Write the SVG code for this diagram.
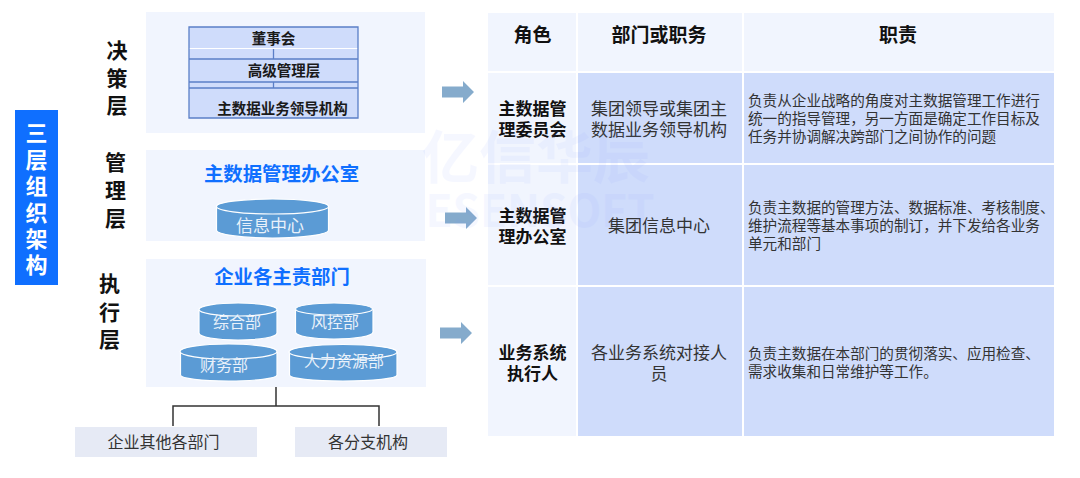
<svg xmlns="http://www.w3.org/2000/svg" width="1080" height="478" viewBox="0 0 1080 478">
<defs>
<style>
text{font-family:"Noto Sans CJK SC","Liberation Sans",sans-serif;dominant-baseline:central;text-anchor:middle}
.panel{fill:#f1f5fe}
.tier{font-size:21px;font-weight:700;fill:#111}
.blue{font-size:19.4px;font-weight:700;fill:#0f6fff}
.stack{font-size:14.5px;font-weight:700;fill:#1a1a1a}
.cyl{fill:#5b9bd5;stroke:#fff;stroke-width:1.2}
.cylt{fill:#e9f1fa;font-size:16px}
.sub{fill:#e6eaf5}
.subt{font-size:16px;fill:#333}
.head{fill:#f1f5fe}
.body{fill:#cfdcfb}
.th{font-size:19px;font-weight:700;fill:#111}
.r{font-size:17px;font-weight:700;fill:#111}
.d{font-size:17px;fill:#333}
.p{font-size:14.6px;fill:#333;text-anchor:start}
.arrow{fill:#85abcc}
.wm{fill:#7f98ff;opacity:.07;font-weight:700}
.l{stroke:#5b7fc7;stroke-width:1.3;fill:none}
</style>
</defs>

<g id="title"><rect x="15" y="110" width="43" height="175" fill="#0f6fff"/>
<g font-size="22" font-weight="700" fill="#fff"><text x="36.500" y="130.500">三</text><text x="36.500" y="157.500">层</text><text x="36.500" y="183.500">组</text><text x="36.500" y="210.500">织</text><text x="36.500" y="236.500">架</text><text x="36.500" y="262.500">构</text></g></g>

<g id="tier-labels">
<text class="tier" x="117" y="48.500">决</text><text class="tier" x="117" y="76.500">策</text><text class="tier" x="117" y="103.500">层</text>
<text class="tier" x="115.500" y="160.500">管</text><text class="tier" x="115.500" y="188.500">理</text><text class="tier" x="115.500" y="216.500">层</text>
<text class="tier" x="109.500" y="281.500">执</text><text class="tier" x="109.500" y="310.500">行</text><text class="tier" x="109.500" y="337.500">层</text>
</g>

<g id="decision-tier">
<rect class="panel" x="146" y="12" width="279" height="121"/>
<rect x="189" y="27" width="169" height="91" fill="#cfdcfb"/>
<path d="M189 48.500H358" stroke="#fff" stroke-width="1.2"/>
<path class="l" d="M189 27H358V118H189ZM189 59H358M189 82H358M189 88H358M273.500 49V59M273.500 82V88"/>
<text class="stack" x="273.500" y="37.500">董事会</text>
<text class="stack" x="284" y="69.500">高级管理层</text>
<text class="stack" x="282.500" y="107">主数据业务领导机构</text>
</g>

<g id="management-tier">
<rect class="panel" x="146" y="150" width="279" height="91"/>
<text class="blue" x="281.500" y="172.500">主数据管理办公室</text>
<path class="cyl" d="M216.500 207V230C216.500 234.500 241 238 272.500 238S328.500 234.500 328.500 230V207"/>
<ellipse class="cyl" cx="272.500" cy="206.500" rx="56" ry="7.500"/>
<text class="cylt" x="270" y="224.500" style="font-size:17px">信息中心</text>
</g>

<g id="execution-tier">
<rect class="panel" x="146" y="259" width="280" height="128"/>
<text class="blue" x="282" y="275.500">企业各主责部门</text>
<g id="dept-zonghe"><path class="cyl" d="M199 310V333C199 337 216 340 238 340S277 337 277 333V310"/><ellipse class="cyl" cx="238" cy="309.500" rx="39" ry="6.500"/><text class="cylt" x="237" y="320.500">综合部</text></g>
<g id="dept-fengkong"><path class="cyl" d="M295.500 309V332C295.500 336 312 339 334 339S373 336 373 332V309"/><ellipse class="cyl" cx="334" cy="309" rx="38.500" ry="6"/><text class="cylt" x="335" y="320.500">风控部</text></g>
<g id="dept-caiwu"><path class="cyl" d="M180.500 352V375C180.500 378.500 202 381 228.500 381S277 378.500 277 375V352"/><ellipse class="cyl" cx="228.500" cy="351.500" rx="48.500" ry="7.500"/><text class="cylt" x="224" y="363.500">财务部</text></g>
<g id="dept-hr"><path class="cyl" d="M289.500 352V375C289.500 378.500 313 381 343 381S397 378.500 397 375V352"/><ellipse class="cyl" cx="343" cy="352" rx="54" ry="7.500"/><text class="cylt" x="344" y="359.500">人力资源部</text></g>
</g>

<g id="connectors">
<path d="M276 387V406M173 426V406H379V426" fill="none" stroke="#333" stroke-width="1.500"/>
<path class="arrow" d="M442 86.500H463V81L474 92L463 103V97.500H442Z"/>
<path class="arrow" d="M445 212.500H466V207L477 218L466 229V223.500H445Z"/>
<path class="arrow" d="M440 327.500H461V322L472 333L461 344V338.500H440Z"/>
</g>

<g id="other-depts"><rect class="sub" x="75" y="427" width="182" height="30"/><text class="subt" x="163.500" y="440.500">企业其他各部门</text></g>
<g id="branches"><rect class="sub" x="295" y="427" width="152" height="30"/><text class="subt" x="368" y="440.500">各分支机构</text></g>

<g id="table">
<rect class="head" x="488" y="13" width="88" height="58"/><rect class="head" x="578" y="13" width="164" height="58"/><rect class="head" x="744" y="13" width="310" height="58"/>
<rect class="head" x="488" y="73" width="88" height="90"/><rect class="body" x="578" y="73" width="164" height="90"/><rect class="body" x="744" y="73" width="310" height="90"/>
<rect class="head" x="488" y="165" width="88" height="120"/><rect class="body" x="578" y="165" width="164" height="120"/><rect class="body" x="744" y="165" width="310" height="120"/>
<rect class="head" x="488" y="287" width="88" height="149"/><rect class="body" x="578" y="287" width="164" height="149"/><rect class="body" x="744" y="287" width="310" height="149"/>

<text class="th" x="532.500" y="33">角色</text><text class="th" x="659" y="33">部门或职务</text><text class="th" x="898" y="33">职责</text>

<text class="r" x="532.500" y="107">主数据管</text><text class="r" x="532.500" y="128">理委员会</text>
<text class="d" x="659" y="107">集团领导或集团主</text><text class="d" x="659" y="128">数据业务领导机构</text>
<text class="p" x="748" y="99">负责从企业战略的角度对主数据管理工作进行</text>
<text class="p" x="748" y="117">统一的指导管理，另一方面是确定工作目标及</text>
<text class="p" x="748" y="135">任务并协调解决跨部门之间协作的问题</text>

<text class="r" x="532.500" y="214">主数据管</text><text class="r" x="532.500" y="235">理办公室</text>
<text class="d" x="659" y="224.500">集团信息中心</text>
<text class="p" x="748" y="206">负责主数据的管理方法、数据标准、考核制度、</text>
<text class="p" x="748" y="224">维护流程等基本事项的制订，并下发给各业务</text>
<text class="p" x="748" y="242">单元和部门</text>

<text class="r" x="532.500" y="351">业务系统</text><text class="r" x="532.500" y="372">执行人</text>
<text class="d" x="659" y="351">各业务系统对接人</text><text class="d" x="659" y="372">员</text>
<text class="p" x="748" y="352">负责主数据在本部门的贯彻落实、应用检查、</text>
<text class="p" x="748" y="370">需求收集和日常维护等工作。</text>
</g>

<g id="watermark">
<text class="wm" x="536" y="153" font-size="57">亿信华辰</text>
<text class="wm" x="540" y="208" font-size="44">ESENSOFT</text>
</g>
</svg>
